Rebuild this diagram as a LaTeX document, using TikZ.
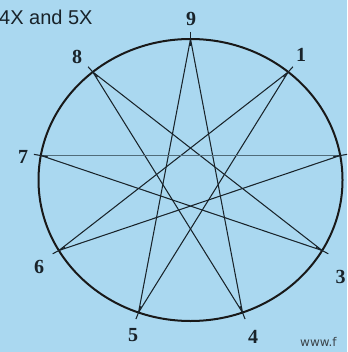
\documentclass[tikz,border=0pt]{standalone}
\usepackage{fontspec}
\setmainfont{Liberation Serif}
\newfontfamily\sansf{Liberation Sans}
\newfontfamily\dvs{DejaVu Sans}
\usetikzlibrary{calc}
\definecolor{bgblue}{RGB}{170,216,240}
\definecolor{ink}{RGB}{25,35,42}
\definecolor{hline}{RGB}{80,108,122}
\begin{document}
\begin{tikzpicture}[x=1pt,y=-1pt,
  lab/.style={font=\fontsize{20}{20}\selectfont\bfseries, inner sep=0pt, text=ink},
  starline/.style={draw=ink, line width=1.05pt},
  tick/.style={draw=ink, line width=1.05pt},
  rim/.style={draw=black!90, line width=2pt}]
  \fill[bgblue] (0,0) rectangle (347,352);
  \useasboundingbox (0,0) rectangle (347,352);
  \clip (0,0) rectangle (347,352);
  \coordinate (c) at (190.5,180);
  \foreach \k in {1,...,9}
    \coordinate (p\k) at ({190.5+152*cos(90-40*\k)},{180-141*sin(90-40*\k)});
  % rim
  \draw[rim] (c) ellipse [x radius=152pt, y radius=141pt];
  % star lines (4X and 5X)
  \draw[starline] (p1) -- (p5);
  \draw[starline] (p2) -- (p6);
  \draw[starline] (p3) -- (p7);
  \draw[starline] (p4) -- (p8);
  \draw[starline] (p5) -- (p9);
  \draw[starline] (p6) -- (p1);
  \draw[starline] (p8) -- (p3);
  \draw[starline] (p9) -- (p4);
  \draw[draw=hline, line width=1.6pt] (p7) -- (p2);
  % ticks
  \foreach \k in {1,...,9}
    \draw[tick] ($(p\k)!-7pt!(c)$) -- ($(p\k)!7pt!(c)$);
  % labels
  \node[lab] (l9) at (191,19) {9};
  \node[lab] (l1) at (301,55) {1};
  \node[lab] (l8) at (77,57) {8};
  \node[lab] (l7) at (23,157) {7};
  \node[lab] (l6) at (39,267) {6};
  \node[lab] (l3) at (340.5,277) {3};
  \node[lab] (l5) at (133,335) {5};
  \node[lab] (l4) at (253,337) {4};
  \node[anchor=west, inner sep=0pt, font=\sansf\fontsize{20}{20}\selectfont, text=ink] (title) at (-1,17.5) {4X and 5X};
  \node[anchor=west, inner sep=0pt, font=\dvs\fontsize{12}{12}\selectfont, text=ink!85] (www) at (300,342) {www.f};
\end{tikzpicture}
\end{document}
